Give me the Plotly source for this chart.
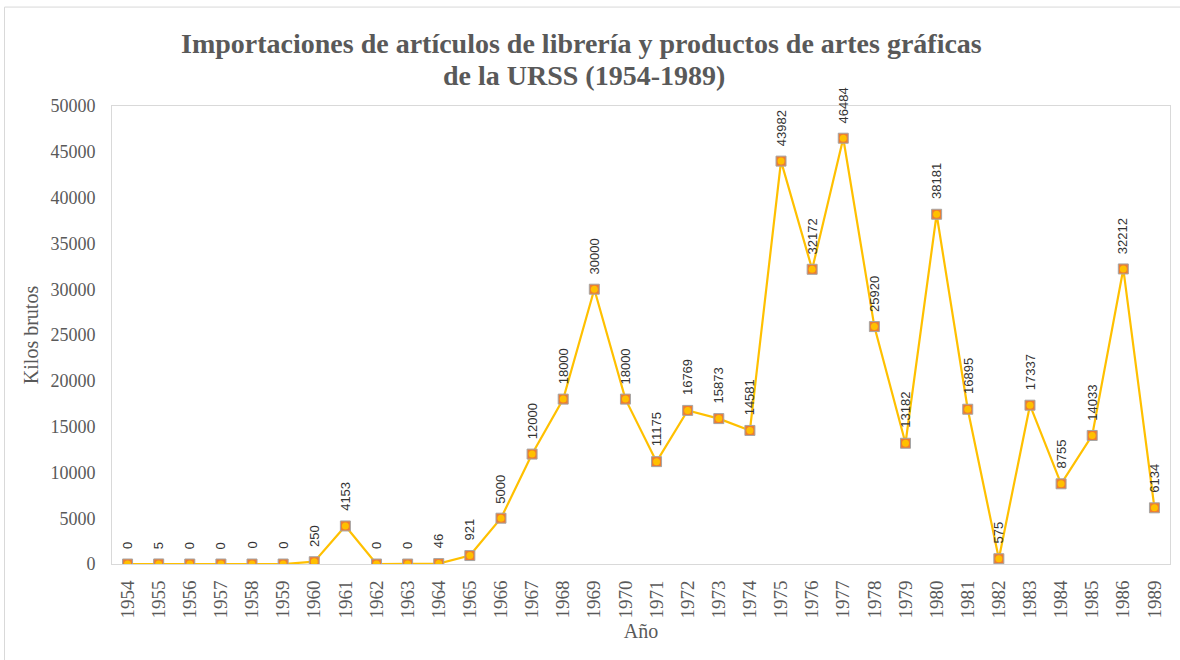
import plotly.graph_objects as go

# Datos: importaciones de la URSS (kilos brutos)
years = ["1954", "1955", "1956", "1957", "1958", "1959", "1960", "1961", "1962",
         "1963", "1964", "1965", "1966", "1967", "1968", "1969", "1970", "1971",
         "1972", "1973", "1974", "1975", "1976", "1977", "1978", "1979", "1980",
         "1981", "1982", "1983", "1984", "1985", "1986", "1989"]
kilos = [0, 5, 0, 0, 0, 0, 250, 4153, 0, 0, 46, 921, 5000, 12000, 18000, 30000,
         18000, 11175, 16769, 15873, 14581, 43982, 32172, 46484, 25920, 13182,
         38181, 16895, 575, 17337, 8755, 14033, 32212, 6134]
y_ticks = [0, 5000, 10000, 15000, 20000, 25000, 30000, 35000, 40000, 45000, 50000]

serif = "Liberation Serif, Times New Roman, serif"
grey = "#595959"

fig = go.Figure()

# Linea + marcadores cuadrados
fig.add_trace(go.Scatter(
    x=years, y=kilos, mode="lines+markers",
    line=dict(color="#FFC000", width=2.2),
    marker=dict(symbol="square", size=10, color="#ED7D31",
                line=dict(color="#A5A5A5", width=1)),
    hoverinfo="skip", showlegend=False
))
# Circulos amarillos encima
fig.add_trace(go.Scatter(
    x=years, y=kilos, mode="markers",
    marker=dict(symbol="circle", size=7, color="#FFC000"),
    hoverinfo="skip", showlegend=False
))

# Etiquetas de datos verticales (x por indice de categoria)
for i, v in enumerate(kilos):
    fig.add_annotation(
        x=i, y=v, text=str(v), showarrow=False, textangle=-90,
        yanchor="bottom", yshift=13,
        font=dict(family="Liberation Sans, Arial", size=13, color="#333333")
    )

# Titulo en dos lineas
fig.add_annotation(
    xref="paper", yref="paper", x=0.444, y=1.137, showarrow=False,
    text="<b>Importaciones de artículos de librería y productos de artes gráficas</b>",
    font=dict(family=serif, size=28, color=grey), xanchor="center", yanchor="middle"
)
fig.add_annotation(
    xref="paper", yref="paper", x=0.446, y=1.066, showarrow=False,
    text="<b>de la URSS (1954-1989)</b>",
    font=dict(family=serif, size=28, color=grey), xanchor="center", yanchor="middle"
)

fig.update_layout(
    width=1180, height=660,
    paper_bgcolor="white", plot_bgcolor="white",
    margin=dict(l=112, r=10, t=106, b=96),
    xaxis=dict(
        type="category", range=[-0.5, len(years) - 0.5],
        tickangle=-90, showgrid=False,
        tickfont=dict(family=serif, size=19, color=grey),
        showline=True, linecolor="#D9D9D9", linewidth=1, mirror=True,
        ticks="", ticklabelstandoff=8,
        title=dict(text="Año", standoff=6,
                   font=dict(family=serif, size=20, color=grey))
    ),
    yaxis=dict(
        range=[0, 50000], tickvals=y_ticks, tickformat="d",
        showgrid=False, zeroline=False,
        tickfont=dict(family=serif, size=18, color=grey),
        showline=True, linecolor="#D9D9D9", linewidth=1, mirror=True,
        ticks="", ticklabelstandoff=12,
        title=dict(text="Kilos brutos", standoff=6,
                   font=dict(family=serif, size=20, color=grey))
    ),
    shapes=[dict(type="rect", xref="paper", yref="paper",
                 x0=-0.1016, x1=1.05, y0=-0.3, y1=1.216,
                 line=dict(color="#D9D9D9", width=1))]
)

fig.write_html("out.html", config={"displayModeBar": False},
               post_script="document.body.style.margin='0';")
